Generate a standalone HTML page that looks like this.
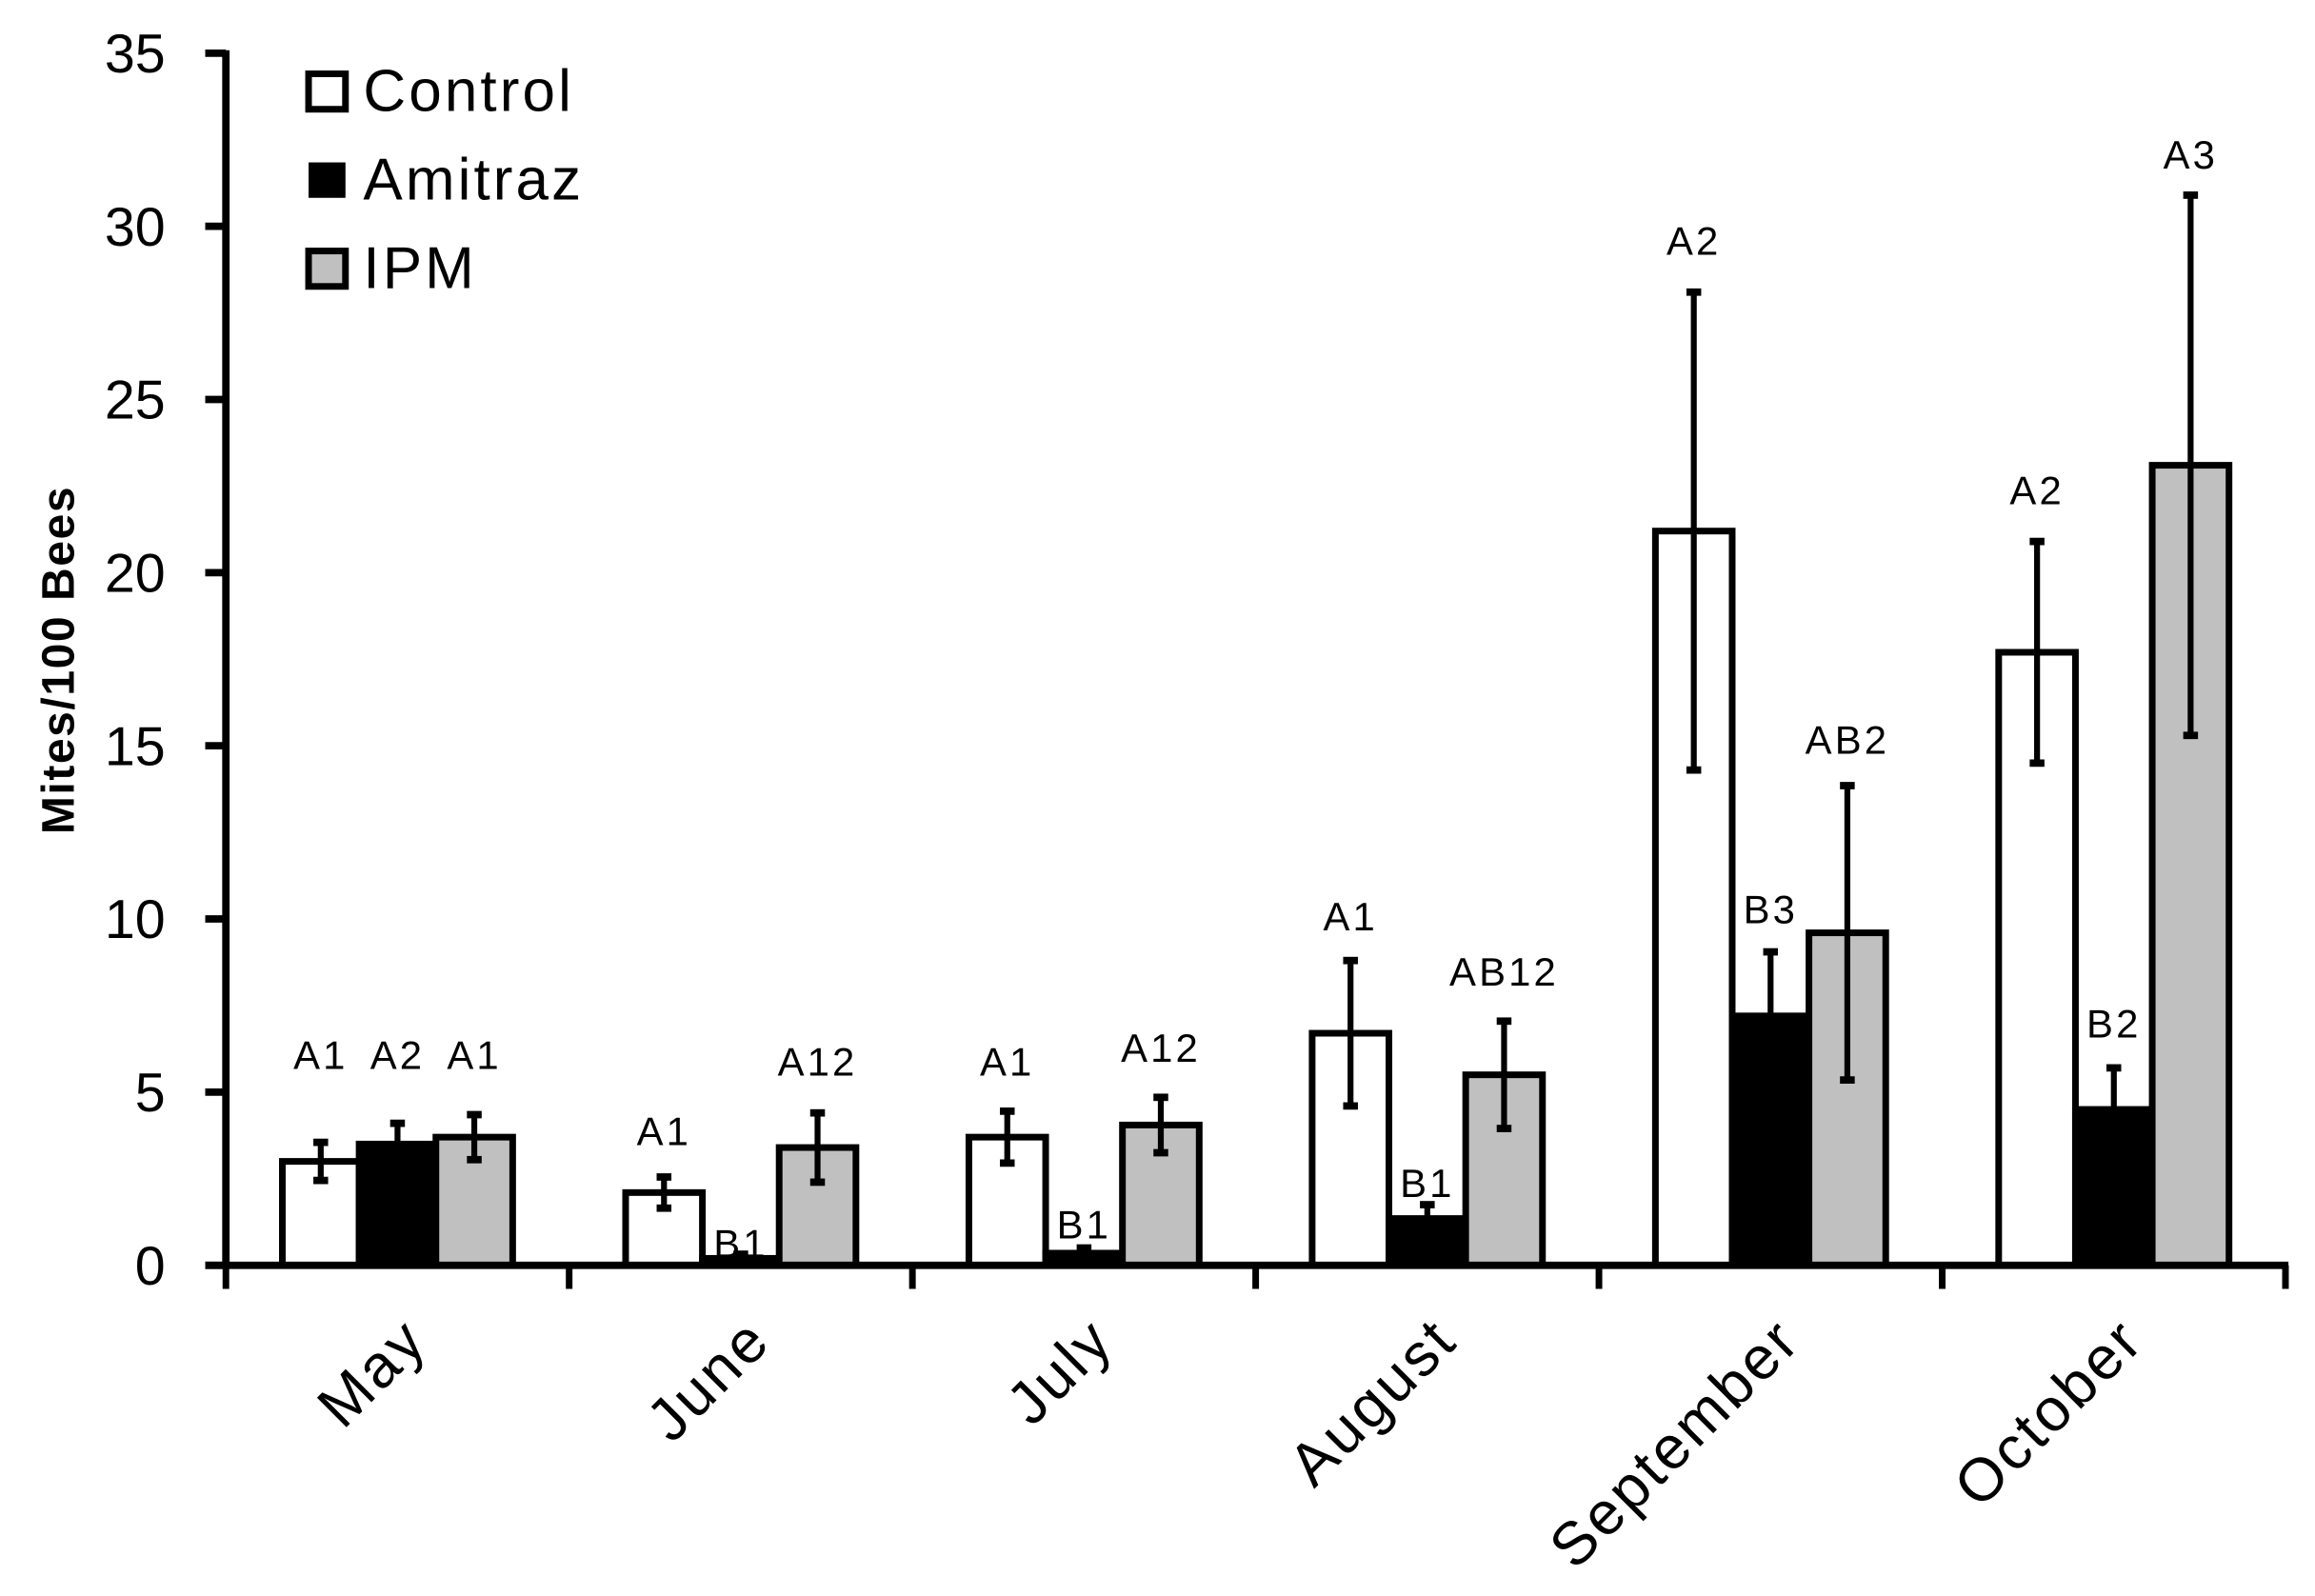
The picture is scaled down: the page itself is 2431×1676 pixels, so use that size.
<!DOCTYPE html>
<html><head><meta charset="utf-8"><style>html,body{margin:0;padding:0;background:#fff}svg{display:block}</style></head>
<body>
<svg id="chart" width="2431" height="1676" viewBox="0 0 1568 1081" preserveAspectRatio="none" xmlns="http://www.w3.org/2000/svg" font-family="'Liberation Sans', sans-serif"></svg>
<script>
const months = ["May","June","July","August","September","October"];
const seriesNames = ["Control","Amitraz","IPM"];
const controlVals = [3.0,2.1,3.7,6.7,21.2,17.7];
const controlErr = [0.55,0.45,0.75,2.1,6.9,3.2];
const amitrazVals = [3.5,0.2,0.35,1.35,7.2,4.5];
const amitrazErr = [0.6,0.12,0.15,0.4,1.85,1.2];
const ipmVals = [3.7,3.4,4.05,5.5,9.6,23.1];
const ipmErr = [0.65,1.0,0.8,1.55,4.25,7.8];
const controlLbl = ["A1","A1","A1","A1","A2","A2"];
const amitrazLbl = ["A2","B1","B1","B1","B3","B2"];
const ipmLbl = ["A1","A12","A12","AB12","AB2","A3"];
const controlLblY = [6.1,3.9,5.9,10.1,29.6,22.4];
const amitrazLblY = [6.1,0.65,1.2,2.4,10.3,7.0];
const ipmLblY = [6.1,5.9,6.3,8.5,15.2,32.1];
const yTicks = [0,5,10,15,20,25,30,35];

const NS="http://www.w3.org/2000/svg";
const svg=document.getElementById('chart');
const X0=153, Y0=857, YTOP=36, YMAX=35, GW=232.5, BW=52, XEND=1550;
const y=v=>Y0-(Y0-YTOP)*v/YMAX;
const gc=i=>X0+GW/2+GW*i;
function mk(tag,attrs,parent){const e=document.createElementNS(NS,tag);for(const k in attrs)e.setAttribute(k,attrs[k]);(parent||svg).appendChild(e);return e;}

const fills=["#fff","#000","#c0c0c0"];
const vals=[controlVals,amitrazVals,ipmVals];
const errs=[controlErr,amitrazErr,ipmErr];
const lbls=[controlLbl,amitrazLbl,ipmLbl];
const lblYs=[controlLblY,amitrazLblY,ipmLblY];

for(let s=0;s<3;s++){
  for(let i=0;i<months.length;i++){
    const cx=gc(i)+(s-1)*BW;
    const v=vals[s][i];
    const r=mk('rect',{x:cx-BW/2,y:y(v),width:BW,height:Y0-y(v),fill:fills[s],stroke:'#000','stroke-width':4.5});
    
    
  }
}
for(let s=0;s<3;s++){
  for(let i=0;i<months.length;i++){
    const cx=gc(i)+(s-1)*BW;
    const v=vals[s][i], e=errs[s][i];
    const g=mk('g',{});
    
    
    mk('line',{x1:cx,x2:cx,y1:y(v+e),y2:y(Math.max(0,v-e)),stroke:'#000','stroke-width':4},g);
    mk('line',{x1:cx-5,x2:cx+5,y1:y(v+e),y2:y(v+e),stroke:'#000','stroke-width':5},g);
    mk('line',{x1:cx-5,x2:cx+5,y1:y(Math.max(0,v-e)),y2:y(Math.max(0,v-e)),stroke:'#000','stroke-width':5},g);
    const t=mk('text',{x:cx,y:y(lblYs[s][i])+10,'text-anchor':'middle','font-size':27,'letter-spacing':2,fill:'#000'});
    t.textContent=lbls[s][i];
    
    
  }
}
// axes
const ax=mk('line',{x1:X0,x2:X0,y1:YTOP-2,y2:Y0+2,stroke:'#000','stroke-width':5});


const bx=mk('line',{x1:X0-14,x2:XEND,y1:Y0,y2:Y0,stroke:'#000','stroke-width':5});


for(const t of yTicks){
  mk('line',{x1:X0-14,x2:X0,y1:y(t),y2:y(t),stroke:'#000','stroke-width':5});
  const tx=mk('text',{x:112,y:y(t)+13,'text-anchor':'end','font-size':37,fill:'#000'});
  tx.textContent=t;
  
  
}
for(let i=0;i<=months.length;i++){
  mk('line',{x1:X0+GW*i,x2:X0+GW*i,y1:Y0,y2:Y0+16,stroke:'#000','stroke-width':4.5});
}
for(let i=0;i<months.length;i++){
  const px=gc(i)+22, py=910;
  const t=mk('text',{x:px,y:py,'text-anchor':'end','font-size':41,'letter-spacing':2,fill:'#000',transform:`rotate(-45 ${px} ${py})`});
  t.textContent=months[i];
  
  
}
const yt=mk('text',{x:50,y:447,'text-anchor':'middle','font-size':31,'font-weight':'bold','letter-spacing':1,fill:'#000',transform:'rotate(-90 50 447)'});
yt.textContent='Mites/100 Bees';


// legend
const legY=[48,108,168];
for(let s=0;s<3;s++){
  const g=mk('g',{});
  
  
  mk('rect',{x:209,y:legY[s]+2,width:25,height:24,fill:fills[s],stroke:'#000','stroke-width':s===1?0:4.5},g);
  const t=mk('text',{x:246,y:legY[s]+27,'font-size':40,'letter-spacing':2,fill:'#000'},g);
  t.textContent=seriesNames[s];
}
</script>
</body></html>
